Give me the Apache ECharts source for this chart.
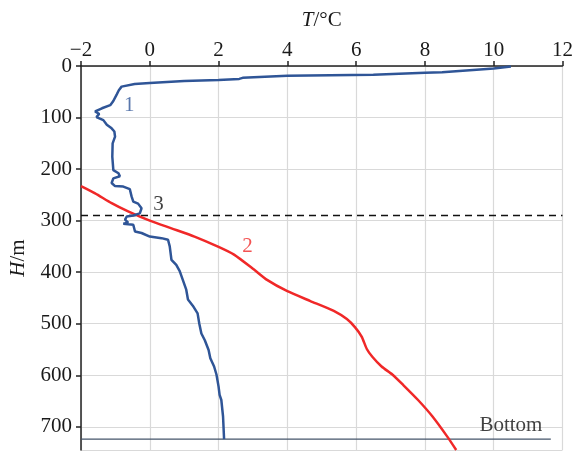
<!DOCTYPE html>
<html>
<head>
	<meta charset="utf-8">
	<title>T-H profile</title>
	<script src="https://cdn.jsdelivr.net/npm/echarts@6/dist/echarts.min.js"></script>
	<style>body{margin:0;background:#fff;}</style>
</head>
<body>
	<div id="main" style="width: 576px;height: 451px;"></div>
</body>
<script type="text/javascript">
	// curve 1 (blue) – temperature T and depth H
	var blueT = [10.5, 10.5, 10.0, 8.5, 8.0, 6.5, 4.0, 2.7, 2.6, 2.0, 1.0, 0.0, -0.44, -0.82, -0.9, -0.96, -1.06, -1.15, -1.39, -1.59,
		-1.47, -1.55, -1.35, -1.25, -1.11, -1.03, -1.01, -1.08, -1.09, -1.06, -0.91, -0.87, -1.06, -1.11, -1.01, -0.77, -0.58, -0.53,
		-0.48, -0.34, -0.24, -0.29, -0.48, -0.67, -0.72, -0.63, -0.77, -0.48, -0.43, -0.24, 0.0, 0.34, 0.53, 0.58, 0.63, 0.77, 0.87,
		0.96, 1.06, 1.11, 1.25, 1.39, 1.44, 1.5, 1.6, 1.71, 1.76, 1.87, 1.94, 2.0, 2.03, 2.08, 2.13, 2.16];
	var blueH = [1, 3, 5, 12, 13, 17, 19, 23, 25, 27, 29, 33, 35, 40, 47, 55, 68, 76, 82, 88,
		93, 99, 105, 114, 121, 127, 137, 150, 176, 202, 208, 214, 218, 227, 233, 234, 239, 253,
		263, 267, 276, 286, 290, 292, 298, 304, 306, 308, 321, 324, 331, 334, 337, 350, 376, 386, 398,
		415, 434, 453, 465, 480, 500, 519, 532, 551, 567, 583, 599, 622, 638, 648, 680, 724];
	// curve 2 (red)
	var redT = [-2, -1.59, -1.11, -0.63, 0, 0.63, 1.3, 2.0, 2.45, 3.03, 3.41, 4.0, 4.67, 5.35, 5.73, 5.97, 6.16, 6.31, 6.47, 6.74, 7.06, 7.37, 7.8, 8.22, 8.65, 8.91];
	var redH = [233, 247, 266, 282, 300, 315, 331, 351, 366, 395, 415, 437, 456, 475, 491, 507, 525, 549, 564, 583, 599, 619, 648, 680, 719, 745];
	// level 3 (dashed) and bottom
	var level3H = 290;
	var bottomH = 724;
	var bottomEndT = 11.66;
	// curve labels
	var labelText = ['1', '2', '3', 'Bottom'];
	var labelT = [-0.6, 2.84, 0.25, 10.5];
	var labelH = [76, 350, 269, 697];
	var labelColor = ['#2f5597', '#f02828', '#111111', '#111111'];

	function pairs(xs, ys) {
		var out = [];
		for (var i = 0; i < xs.length; i++) out.push([xs[i], ys[i]]);
		return out;
	}
	var labelData = [];
	for (var i = 0; i < labelText.length; i++) {
		labelData.push({
			name: labelText[i],
			value: [labelT[i], labelH[i]],
			label: {color: labelColor[i]}
		});
	}

	var font = 'Liberation Serif';
	var fs = 21;
	var myChart = echarts.init(document.getElementById('main'));
	var option = {
		animation: false,
		textStyle: {fontFamily: font},
		grid: {left: 79, right: 11, top: 66, bottom: 1},
		xAxis: {
			type: 'value',
			position: 'top',
			min: -2, max: 12, interval: 2,
			name: '{i|T}/°C',
			nameLocation: 'middle',
			nameGap: 35,
			nameTextStyle: {fontFamily: font, fontSize: fs, color: '#1a1a1a',
				rich: {i: {fontFamily: font, fontSize: fs, fontStyle: 'italic', color: '#1a1a1a'}}},
			axisLine: {onZero: false, lineStyle: {color: '#222', width: 1.5}},
			axisTick: {show: true, length: 5, lineStyle: {color: '#222', width: 1.5}},
			axisLabel: {fontFamily: font, fontSize: fs, color: '#1a1a1a', margin: 5,
				formatter: function (v) { return v < 0 ? '\u2212' + (-v) : String(v); }},
			splitLine: {show: true, lineStyle: {color: '#d9d9d9', width: 1.2}}
		},
		yAxis: {
			type: 'value',
			inverse: true,
			min: 0, max: 745, interval: 100,
			name: '{i|H}/m',
			nameLocation: 'middle',
			nameGap: 52,
			nameRotate: 90,
			nameTextStyle: {fontFamily: font, fontSize: fs, color: '#1a1a1a',
				rich: {i: {fontFamily: font, fontSize: fs, fontStyle: 'italic', color: '#1a1a1a'}}},
			axisLine: {show: true, onZero: false, lineStyle: {color: '#222', width: 1.5}},
			axisTick: {show: true, length: 5, lineStyle: {color: '#222', width: 1.5}},
			axisLabel: {fontFamily: font, fontSize: fs, color: '#1a1a1a', margin: 9, showMaxLabel: false,
				formatter: function (v) { return v % 100 === 0 ? String(v) : ''; }},
			splitLine: {show: true, lineStyle: {color: '#d9d9d9', width: 1.2}}
		},
		series: [{
			name: '1',
			type: 'line',
			data: pairs(blueT, blueH),
			symbol: 'none',
			lineStyle: {color: '#2f5597', width: 2.5},
			z: 5
		}, {
			name: '2',
			type: 'line',
			data: pairs(redT, redH),
			smooth: 0.2,
			symbol: 'none',
			lineStyle: {color: '#f02828', width: 2.5},
			z: 4
		}, {
			name: '3',
			type: 'line',
			data: [[-2, level3H], [12, level3H]],
			symbol: 'none',
			lineStyle: {color: '#111', width: 1.5, type: [7, 5]},
			z: 3
		}, {
			name: 'bottom',
			type: 'line',
			data: [[-2, bottomH], [bottomEndT, bottomH]],
			symbol: 'none',
			lineStyle: {color: '#44546a', width: 1.3},
			z: 3
		}, {
			name: 'labels',
			type: 'scatter',
			symbolSize: 0,
			data: labelData,
			label: {show: true, position: 'inside', fontFamily: font, fontSize: fs,
				formatter: function (p) { return p.name; }},
			z: 6
		}]
	};
	myChart.setOption(option);
</script>
</html>
